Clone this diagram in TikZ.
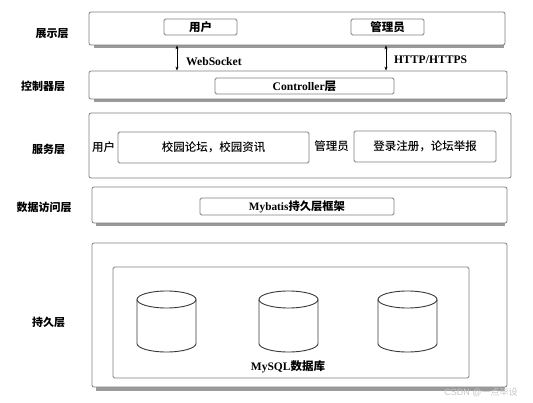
\documentclass[tikz,border=0pt]{standalone}
\usepackage{fontspec}
\setmainfont{Liberation Serif}
\newfontfamily\cjk{Noto Sans CJK SC}
\newfontfamily\cjkm{Noto Sans CJK SC Medium}
\usetikzlibrary{arrows.meta}
\definecolor{boxgray}{HTML}{808080}
\definecolor{shadowgray}{HTML}{9A9A9A}
\definecolor{cylgray}{HTML}{3A3A3A}
\definecolor{wmgray}{HTML}{C8C8C8}
\begin{document}
\begin{tikzpicture}[x=1pt,y=1pt,
  layerbox/.style={draw=boxgray, line width=0.8pt, rounded corners=2pt, fill=white, inner sep=0pt},
  innerbox/.style={draw=boxgray, line width=0.8pt, rounded corners=1.5pt, inner sep=0pt},
  shadowbar/.style={fill=shadowgray, draw=none},
  lbl/.style={font=\cjk\bfseries\fontsize{11}{13}\selectfont, text=black, inner sep=0pt},
  cjkb/.style={font=\cjk\bfseries\fontsize{11.5}{13}\selectfont, text=black},
  cjkr/.style={font=\cjkm\fontsize{11.5}{13}\selectfont, text=black},
  latb/.style={font=\bfseries\fontsize{11.6}{13}\selectfont, text=black, inner sep=0pt},
  dbl/.style={{Stealth[length=4pt,width=3pt]}-{Stealth[length=4pt,width=3pt]}, line width=0.7pt, black},
  cyl/.style={draw=cylgray, line width=0.9pt}
]
\useasboundingbox[fill=white] (0,0) rectangle (533,-403);

% shadows
\fill[shadowbar] (94,-45) rectangle (504,-48.5);
\fill[shadowbar] (94,-99) rectangle (505,-102.5);
\fill[shadowbar] (96,-223) rectangle (505,-226.5);
\fill[shadowbar] (96,-387) rectangle (505,-390.5);

% layer 1: presentation
\node[layerbox, minimum width=416pt, minimum height=33pt] (L1) at (297,-28.5) {};
\node[innerbox, minimum width=73pt, minimum height=16pt, cjkb] (u1) at (200.5,-27) {用户};
\node[innerbox, minimum width=73pt, minimum height=16pt, cjkb] (a1) at (387.5,-27) {管理员};
\node[lbl] (t1) at (52,-33.5) {展示层};

% layer 2: controller
\node[layerbox, minimum width=418pt, minimum height=28pt] (L2) at (298,-85) {};
\node[innerbox, minimum width=179pt, minimum height=16pt] (c2) at (304.5,-86)
  {\bfseries\fontsize{11.6}{13}\selectfont Controller{\cjk 层}};
\node[lbl] (t2) at (43,-86.5) {控制器层};

% arrows
\coordinate (wsx) at (177,0);
\coordinate (htx) at (386,0);
\draw[dbl] (L1.south -| wsx) -- (L2.north -| wsx);
\draw[dbl] (L1.south -| htx) -- (L2.north -| htx);
\node[latb, anchor=west] (ws) at (186,-62) {WebSocket};
\node[latb, anchor=west] (ht) at (394,-60) {HTTP/HTTPS};

% layer 3: service
\node[layerbox, minimum width=422pt, minimum height=65pt] (L3) at (300,-145.5) {};
\node[cjkr, inner sep=0pt] (u3) at (103.5,-147) {用户};
\node[innerbox, minimum width=191pt, minimum height=31pt, cjkr] (s3a) at (213.5,-147.5) {校园论坛，校园资讯};
\node[cjkr, inner sep=0pt] (a3) at (331.5,-146) {管理员};
\node[innerbox, minimum width=142pt, minimum height=31pt, cjkr] (s3b) at (425,-146.5) {登录注册，论坛举报};
\node[lbl] (t3) at (48.5,-149) {服务层};

% layer 4: data access
\node[layerbox, minimum width=415pt, minimum height=36pt] (L4) at (299.5,-205) {};
\node[innerbox, minimum width=194pt, minimum height=17pt] (m4) at (297,-206.5)
  {\bfseries\fontsize{11.3}{13}\selectfont Mybatis{\cjk 持久层框架}};
\node[lbl] (t4) at (44,-207) {数据访问层};

% layer 5: persistence
\node[layerbox, minimum width=415pt, minimum height=144pt] (L5) at (299.5,-315) {};
\node[innerbox, minimum width=356pt, minimum height=111pt] (db) at (291,-322.5) {};
\node[lbl] (t5) at (48.5,-322) {持久层};
\node[inner sep=0pt] (dbl) at (288,-367)
  {\bfseries\fontsize{11.5}{13}\selectfont MySQL{\cjk 数据库}};

% cylinders
\foreach \cx/\nm in {166.5/cA, 288.5/cB, 407.5/cC}{
  \coordinate (\nm) at (\cx,-299.5);
  \draw[cyl] ([xshift=-29.5pt]\nm) -- ++(0,-44)
     arc[start angle=180, end angle=360, x radius=29.5pt, y radius=8.5pt] -- ++(0,44);
  \draw[cyl] (\nm) ellipse [x radius=29.5pt, y radius=8.5pt];
}

% watermark
\node[font=\fontsize{9}{11}\selectfont, text=wmgray, inner sep=0pt] (wm) at (481,-392)
  {\fontspec{Liberation Sans}CSDN @{\cjk 一点毕设}};
\end{tikzpicture}
\end{document}
